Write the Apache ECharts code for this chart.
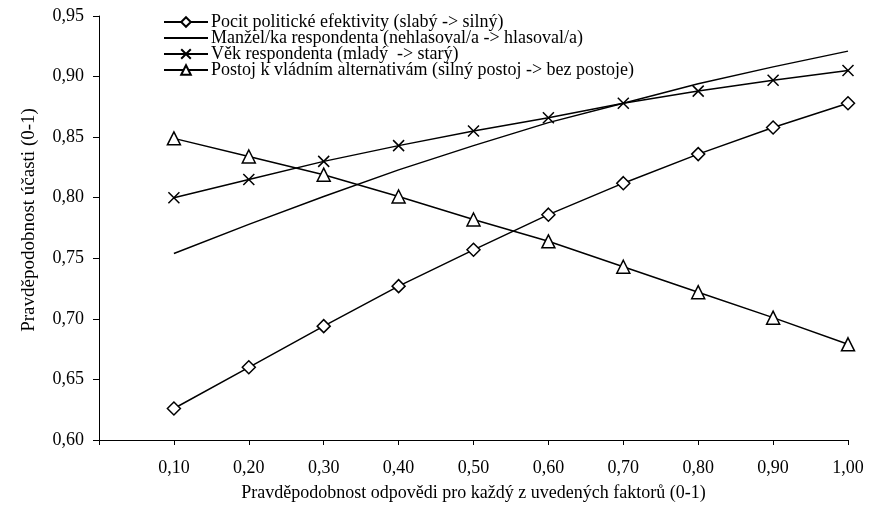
<!DOCTYPE html>
<html>
<head>
<meta charset="utf-8">
<script src="https://cdn.jsdelivr.net/npm/echarts@6/dist/echarts.min.js"></script>
<style>html,body{margin:0;padding:0;background:#fff}#c{width:885px;height:522px}</style>
</head>
<body>
<div id="c"></div>
<script>
const xValues = [0.1, 0.2, 0.3, 0.4, 0.5, 0.6, 0.7, 0.8, 0.9, 1.0];
const seriesNames = [
  'Pocit politické efektivity (slabý -> silný)',
  'Manžel/ka respondenta (nehlasoval/a -> hlasoval/a)',
  'Věk respondenta (mladý  -> starý)',
  'Postoj k vládním alternativám (silný postoj -> bez postoje)'
];
const efektivita = [0.626, 0.660, 0.694, 0.727, 0.757, 0.786, 0.812, 0.836, 0.858, 0.878];
const manzel = [0.754, 0.778, 0.801, 0.823, 0.843, 0.862, 0.878, 0.894, 0.908, 0.921];
const vek = [0.800, 0.815, 0.830, 0.843, 0.855, 0.866, 0.878, 0.888, 0.897, 0.905];
const postoj = [0.849, 0.834, 0.819, 0.801, 0.782, 0.764, 0.743, 0.722, 0.701, 0.679];
const xTitle = 'Pravděpodobnost odpovědi pro každý z uvedených faktorů (0-1)';
const yTitle = 'Pravděpodobnost účasti (0-1)';

const font = 'Liberation Serif, Times New Roman, serif';
const pair = arr => xValues.map((x, i) => [x, arr[i]]);
const comma = v => v.toFixed(2).replace('.', ',');
const cross = 'path://M0,0 L10,10 M10,0 L0,10';

const base = {
  type: 'line',
  lineStyle: { color: '#000', width: 1.5 },
  itemStyle: { color: '#fff', borderColor: '#000', borderWidth: 1.5 },
  symbolSize: 11,
  showAllSymbol: true,
  animation: false,
  z: 3
};

const chart = echarts.init(document.getElementById('c'));
chart.setOption({
  animation: false,
  textStyle: { fontFamily: font, color: '#000' },
  grid: { left: 99, right: 37, top: 16, bottom: 82 },
  legend: {
    orient: 'vertical',
    left: 163,
    top: 13,
    padding: 0,
    itemWidth: 44,
    itemHeight: 12,
    itemGap: -2,
    textStyle: { fontFamily: font, fontSize: 18, lineHeight: 16, color: '#000', padding: [0, 0, 0, -2] },
    data: [
      seriesNames[0],
      { name: seriesNames[1], itemStyle: { color: 'rgba(0,0,0,0)', borderColor: 'rgba(0,0,0,0)', opacity: 0 } },
      seriesNames[2],
      seriesNames[3]
    ]
  },
  xAxis: {
    type: 'value',
    min: 0, max: 1, interval: 0.1,
    name: xTitle,
    nameLocation: 'middle',
    nameGap: 44,
    nameTextStyle: { fontFamily: font, fontSize: 18, color: '#000' },
    axisLine: { lineStyle: { color: '#000', width: 1 } },
    axisTick: { show: true, inside: false, length: 5, lineStyle: { color: '#000' } },
    axisLabel: {
      margin: 19, fontFamily: font, fontSize: 18, color: '#000',
      formatter: v => (v < 0.05 ? '' : comma(v))
    },
    splitLine: { show: false }
  },
  yAxis: {
    type: 'value',
    min: 0.6, max: 0.95, interval: 0.05,
    name: yTitle,
    nameLocation: 'middle',
    nameGap: 60,
    nameTextStyle: { fontFamily: font, fontSize: 19, color: '#000', padding: [0, 0, 0, 16] },
    axisLine: { show: true, lineStyle: { color: '#000', width: 1 } },
    axisTick: { show: true, length: 6, lineStyle: { color: '#000' } },
    axisLabel: { margin: 15, fontFamily: font, fontSize: 18, color: '#000', formatter: v => comma(v) },
    splitLine: { show: false }
  },
  series: [
    Object.assign({}, base, { name: seriesNames[0], data: pair(efektivita), symbol: 'diamond', symbolSize: 13 }),
    Object.assign({}, base, { name: seriesNames[1], data: pair(manzel), symbol: 'none' }),
    Object.assign({}, base, { name: seriesNames[2], data: pair(vek), symbol: cross, symbolSize: 11,
      itemStyle: { color: 'none', borderColor: '#000', borderWidth: 1.5 } }),
    Object.assign({}, base, { name: seriesNames[3], data: pair(postoj), symbol: 'triangle', symbolSize: 13 })
  ]
});
</script>
</body>
</html>
